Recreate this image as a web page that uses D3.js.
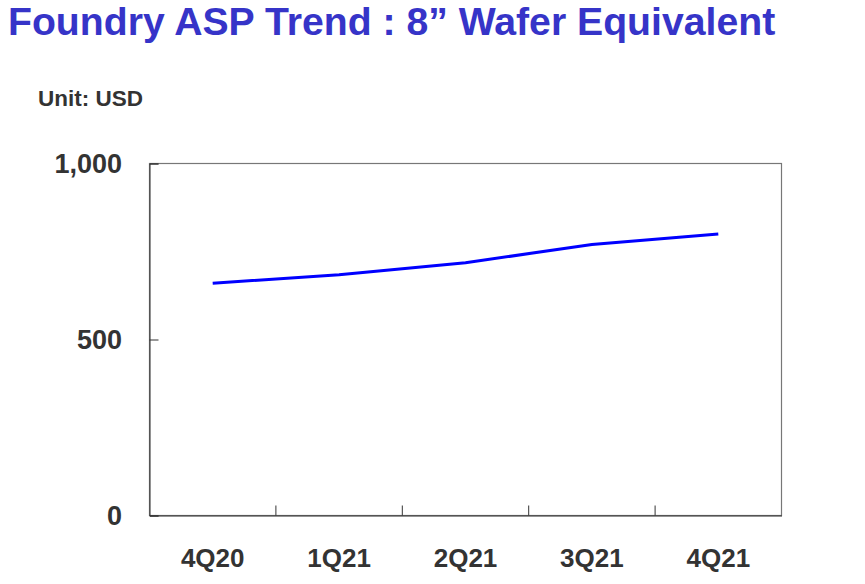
<!DOCTYPE html>
<html>
<head>
	<meta http-equiv="Content-Type" content="text/html;charset=UTF-8">
	<title>Foundry ASP Trend</title>
	<style>
		body { margin: 0; background: #fff; }
		svg text { font-family: "Liberation Sans", Arial, sans-serif; font-weight: bold; }
	</style>
</head>
<body>
	<div class="chart"></div>

	<script src="https://d3js.org/d3.v7.min.js"></script>
	<script>
		// quarters and ASP (USD, 8" wafer equivalent)
		var quarters = ["4Q20", "1Q21", "2Q21", "3Q21", "4Q21"];
		var asp = [660, 684, 718, 770, 800];
		var yTicks = [0, 500, 1000];

		var w = 865;
		var h = 584;
		var box = { left: 149.5, right: 781.5, top: 163.5, bottom: 515.5 };

		var SVG = d3.select("div.chart").append("svg")
					.attr("width", w)
					.attr("height", h);

		/* Scales */
		var xSCALE = d3.scaleBand()
						.domain(quarters)
						.range([box.left, box.right]);

		var ySCALE = d3.scaleLinear()
						.domain([0, 1000])
						.range([box.bottom, box.top]);

		/* Title */
		SVG.append("text")
			.attr("x", 8)
			.attr("y", 34.5)
			.attr("font-size", "39.2px")
			.attr("fill", "#3634c8")
			.text("Foundry ASP Trend : 8\u201d Wafer Equivalent");

		SVG.append("text")
			.attr("x", 38)
			.attr("y", 105.5)
			.attr("font-size", "22.5px")
			.attr("fill", "#333")
			.text("Unit: USD");

		/* Frame */
		SVG.append("rect")
			.attr("x", box.left)
			.attr("y", box.top)
			.attr("width", box.right - box.left)
			.attr("height", box.bottom - box.top)
			.attr("fill", "none")
			.attr("stroke", "#777")
			.attr("stroke-width", 1.2);

		/* Y axis */
		var yAxis = d3.axisLeft(ySCALE)
					  .tickValues(yTicks)
					  .tickSize(-9)
					  .tickPadding(27.5)
					  .tickFormat(d3.format(","));

		var gy = SVG.append("g")
			  .attr("transform", "translate(" + box.left + ",0)")
			  .call(yAxis);
		gy.select(".domain").attr("stroke", "#333");
		gy.selectAll(".tick line").attr("stroke", "#333");
		gy.selectAll(".tick text")
			.attr("font-size", "27px")
			.attr("fill", "#333")
			.attr("font-family", null);

		/* X axis: ticks between the quarters, pointing up */
		var xAxis = d3.axisBottom(xSCALE)
					  .tickSize(0)
					  .tickPadding(33);

		var gx = SVG.append("g")
			  .attr("transform", "translate(0," + box.bottom + ")")
			  .call(xAxis);
		gx.select(".domain").attr("stroke", "#333");
		gx.selectAll(".tick text")
			.attr("font-size", "26px")
			.attr("fill", "#333")
			.attr("font-family", null);

		gx.selectAll("line.sep")
			.data(quarters.slice(1))
			.enter()
			.append("line")
			.attr("class", "sep")
			.attr("x1", function(d){ return xSCALE(d); })
			.attr("x2", function(d){ return xSCALE(d); })
			.attr("y1", 0)
			.attr("y2", -10)
			.attr("stroke", "#333");

		/* Line */
		var line = d3.line()
					.x(function(d, i){ return xSCALE(quarters[i]) + xSCALE.bandwidth() / 2; })
					.y(function(d){ return ySCALE(d); });

		SVG.append("path")
			.datum(asp)
			.attr("d", line)
			.attr("fill", "none")
			.attr("stroke", "#0000ff")
			.attr("stroke-width", 3);
	</script>
</body>
</html>
